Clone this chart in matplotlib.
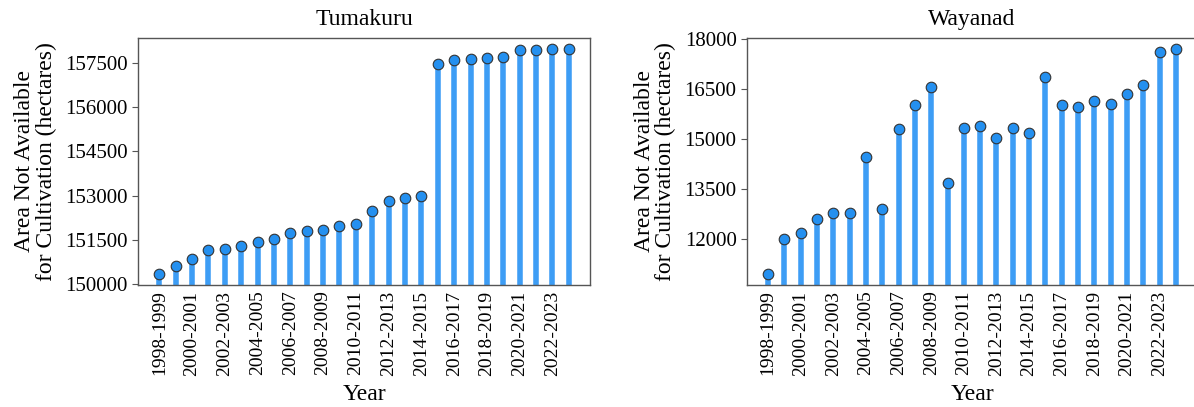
import matplotlib
matplotlib.use("Agg")
import matplotlib.pyplot as plt
import numpy as np

plt.rcParams["font.family"] = ["Liberation Serif", "DejaVu Serif"]

years = [f"{y}-{y + 1}" for y in range(1998, 2024)]

tumakuru = [150340, 150612, 150850, 151144, 151201, 151303, 151416, 151529,
            151745, 151790, 151824, 151983, 152039, 152492, 152821, 152912,
            153002, 157477, 157602, 157647, 157659, 157693, 157953, 157953,
            157976, 157987]

wayanad = [10962, 12000, 12200, 12619, 12789, 12789, 14455, 12898,
           15293, 16012, 16561, 13687, 15323, 15383, 15014, 15333,
           15164, 16850, 16012, 15952, 16121, 16052, 16331, 16600,
           17598, 17698]

panels = [
    ("Tumakuru", tumakuru, (149970, 158350), [150000, 151500, 153000, 154500, 156000, 157500]),
    ("Wayanad", wayanad, (10633, 18020), [12000, 13500, 15000, 16500, 18000]),
]

fig = plt.figure(figsize=(11.94, 4.07), dpi=100)
positions = [[0.1156, 0.2998, 0.3786, 0.607], [0.6256, 0.2998, 0.3770, 0.607]]

stem_color = "#3d9df5"
marker_color = "#2490f0"

for pos, (name, vals, ylim, yticks) in zip(positions, panels):
    ax = fig.add_axes(pos)
    x = np.arange(len(years))
    ax.vlines(x, ylim[0], vals, color=stem_color, linewidth=4, zorder=2)
    ax.scatter(x, vals, s=58, color=marker_color, edgecolor="#333333",
               linewidth=0.8, zorder=3)
    ax.set_ylim(*ylim)
    ax.set_xlim(-1.3, len(years) - 1 + 1.3)
    ax.set_yticks(yticks)
    ax.set_xticks(x[::2])
    ax.set_xticklabels(years[::2], rotation=90)
    ax.tick_params(axis="x", length=0, labelsize=14, pad=4)
    ax.tick_params(axis="y", length=4, labelsize=15, color="#555555")
    for s in ax.spines.values():
        s.set_color("#555555")
        s.set_linewidth(1.0)
    ax.set_title(name, fontsize=17, pad=9)
    ax.set_xlabel("Year", fontsize=17, labelpad=6)
    ax.set_ylabel("Area Not Available\nfor Cultivation (hectares)", fontsize=17,
                  linespacing=1.0, labelpad=6)

fig.savefig("out.png", dpi=100)
